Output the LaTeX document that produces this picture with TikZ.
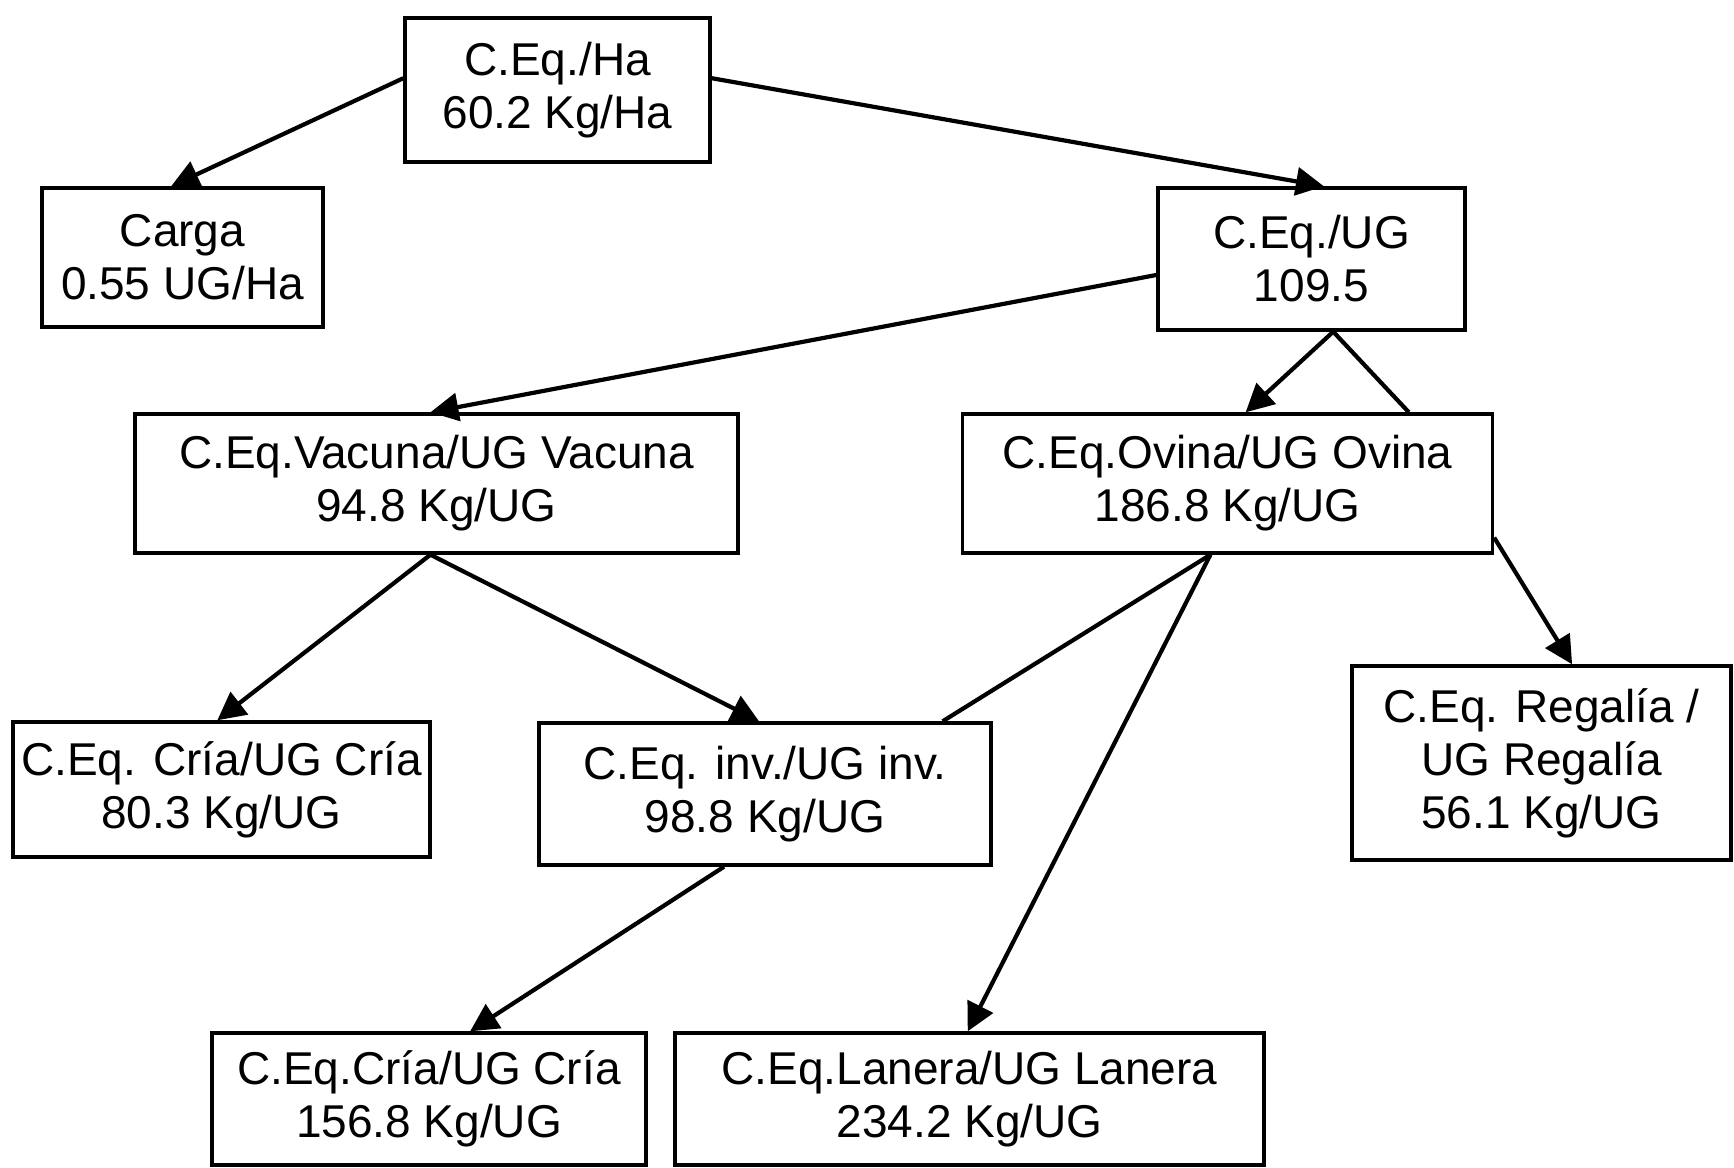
\documentclass[tikz,border=0pt]{standalone}
\usepackage{fontspec}
\setmainfont{Liberation Sans}
\usetikzlibrary{arrows.meta,calc}
\begin{document}
\begin{tikzpicture}[x=0.5pt,y=-0.5pt,
 box/.style={draw,line width=1.7pt,rectangle,align=center,inner sep=0pt,font=\fontsize{23}{26.5}\selectfont},
 conn/.style={line width=2.1pt},
 arr/.style={conn,-{Triangle[length=14pt,width=14pt]}}]
\useasboundingbox[fill=white] (0,0) rectangle (1734,1167);
\node[box,minimum width=152.5pt,minimum height=72pt] (ha) at (557.5,90) {C.Eq./Ha\\60.2 Kg/Ha};
\node[box,minimum width=140.5pt,minimum height=69.5pt] (carga) at (182.5,257.5) {Carga\\0.55 UG/Ha};
\node[box,minimum width=153.5pt,minimum height=71pt] (ug) at (1311.5,259) {C.Eq./UG\\109.5};
\node[box,minimum width=301.5pt,minimum height=69.5pt] (vac) at (436.5,483.5) {C.Eq.Vacuna/UG Vacuna\\94.8 Kg/UG};
\node[box,minimum width=265pt,minimum height=69.5pt] (ov) at (1227.5,483.5) {C.Eq.Ovina/UG Ovina\\186.8 Kg/UG};
\node[box,minimum width=208.5pt,minimum height=67.5pt] (cria) at (221.5,789.5) {C.Eq. Cría/UG Cría\\80.3 Kg/UG};
\node[box,minimum width=226pt,minimum height=71pt] (inv) at (765,794) {C.Eq. inv./UG inv.\\98.8 Kg/UG};
\node[box,minimum width=189.5pt,minimum height=97pt] (reg) at (1541.5,763) {C.Eq. Regalía /\\UG Regalía\\56.1 Kg/UG};
\node[box,minimum width=217pt,minimum height=66pt] (cria2) at (429,1099) {C.Eq.Cría/UG Cría\\156.8 Kg/UG};
\node[box,minimum width=294.5pt,minimum height=66pt] (lan) at (969.5,1099) {C.Eq.Lanera/UG Lanera\\234.2 Kg/UG};

\draw[arr] ($(ha.north west)!0.42!(ha.south west)$) -- ($(carga.north west)!0.46!(carga.north east)$);
\draw[arr] ($(ha.north east)!0.42!(ha.south east)$) -- ($(ug.north west)!0.54!(ug.north east)$);
\draw[arr] ($(ug.north west)!0.61!(ug.south west)$) -- ($(vac.north west)!0.49!(vac.north east)$);
\coordinate (ugb) at ($(ug.south west)!0.57!(ug.south east)$);
\draw[arr] (ugb) -- ($(ov.north west)!0.534!(ov.north east)$);
\draw[conn] (ugb) -- ($(ov.north west)!0.84!(ov.north east)$);
\coordinate (vb) at ($(vac.south west)!0.49!(vac.south east)$);
\draw[arr] (vb) -- ($(cria.north west)!0.49!(cria.north east)$);
\draw[arr] (vb) -- ($(inv.north west)!0.487!(inv.north east)$);
\coordinate (ob) at ($(ov.south west)!0.468!(ov.south east)$);
\draw[conn] (ob) -- ($(inv.north west)!0.89!(inv.north east)$);
\draw[arr] (ob) -- ($(lan.north west)!0.497!(lan.north east)$);
\draw[arr] ($(ov.north east)!0.88!(ov.south east)$) -- ($(reg.north west)!0.58!(reg.north east)$);
\draw[arr] ($(inv.south west)!0.41!(inv.south east)$) -- ($(cria2.north west)!0.594!(cria2.north east)$);
\end{tikzpicture}
\end{document}
